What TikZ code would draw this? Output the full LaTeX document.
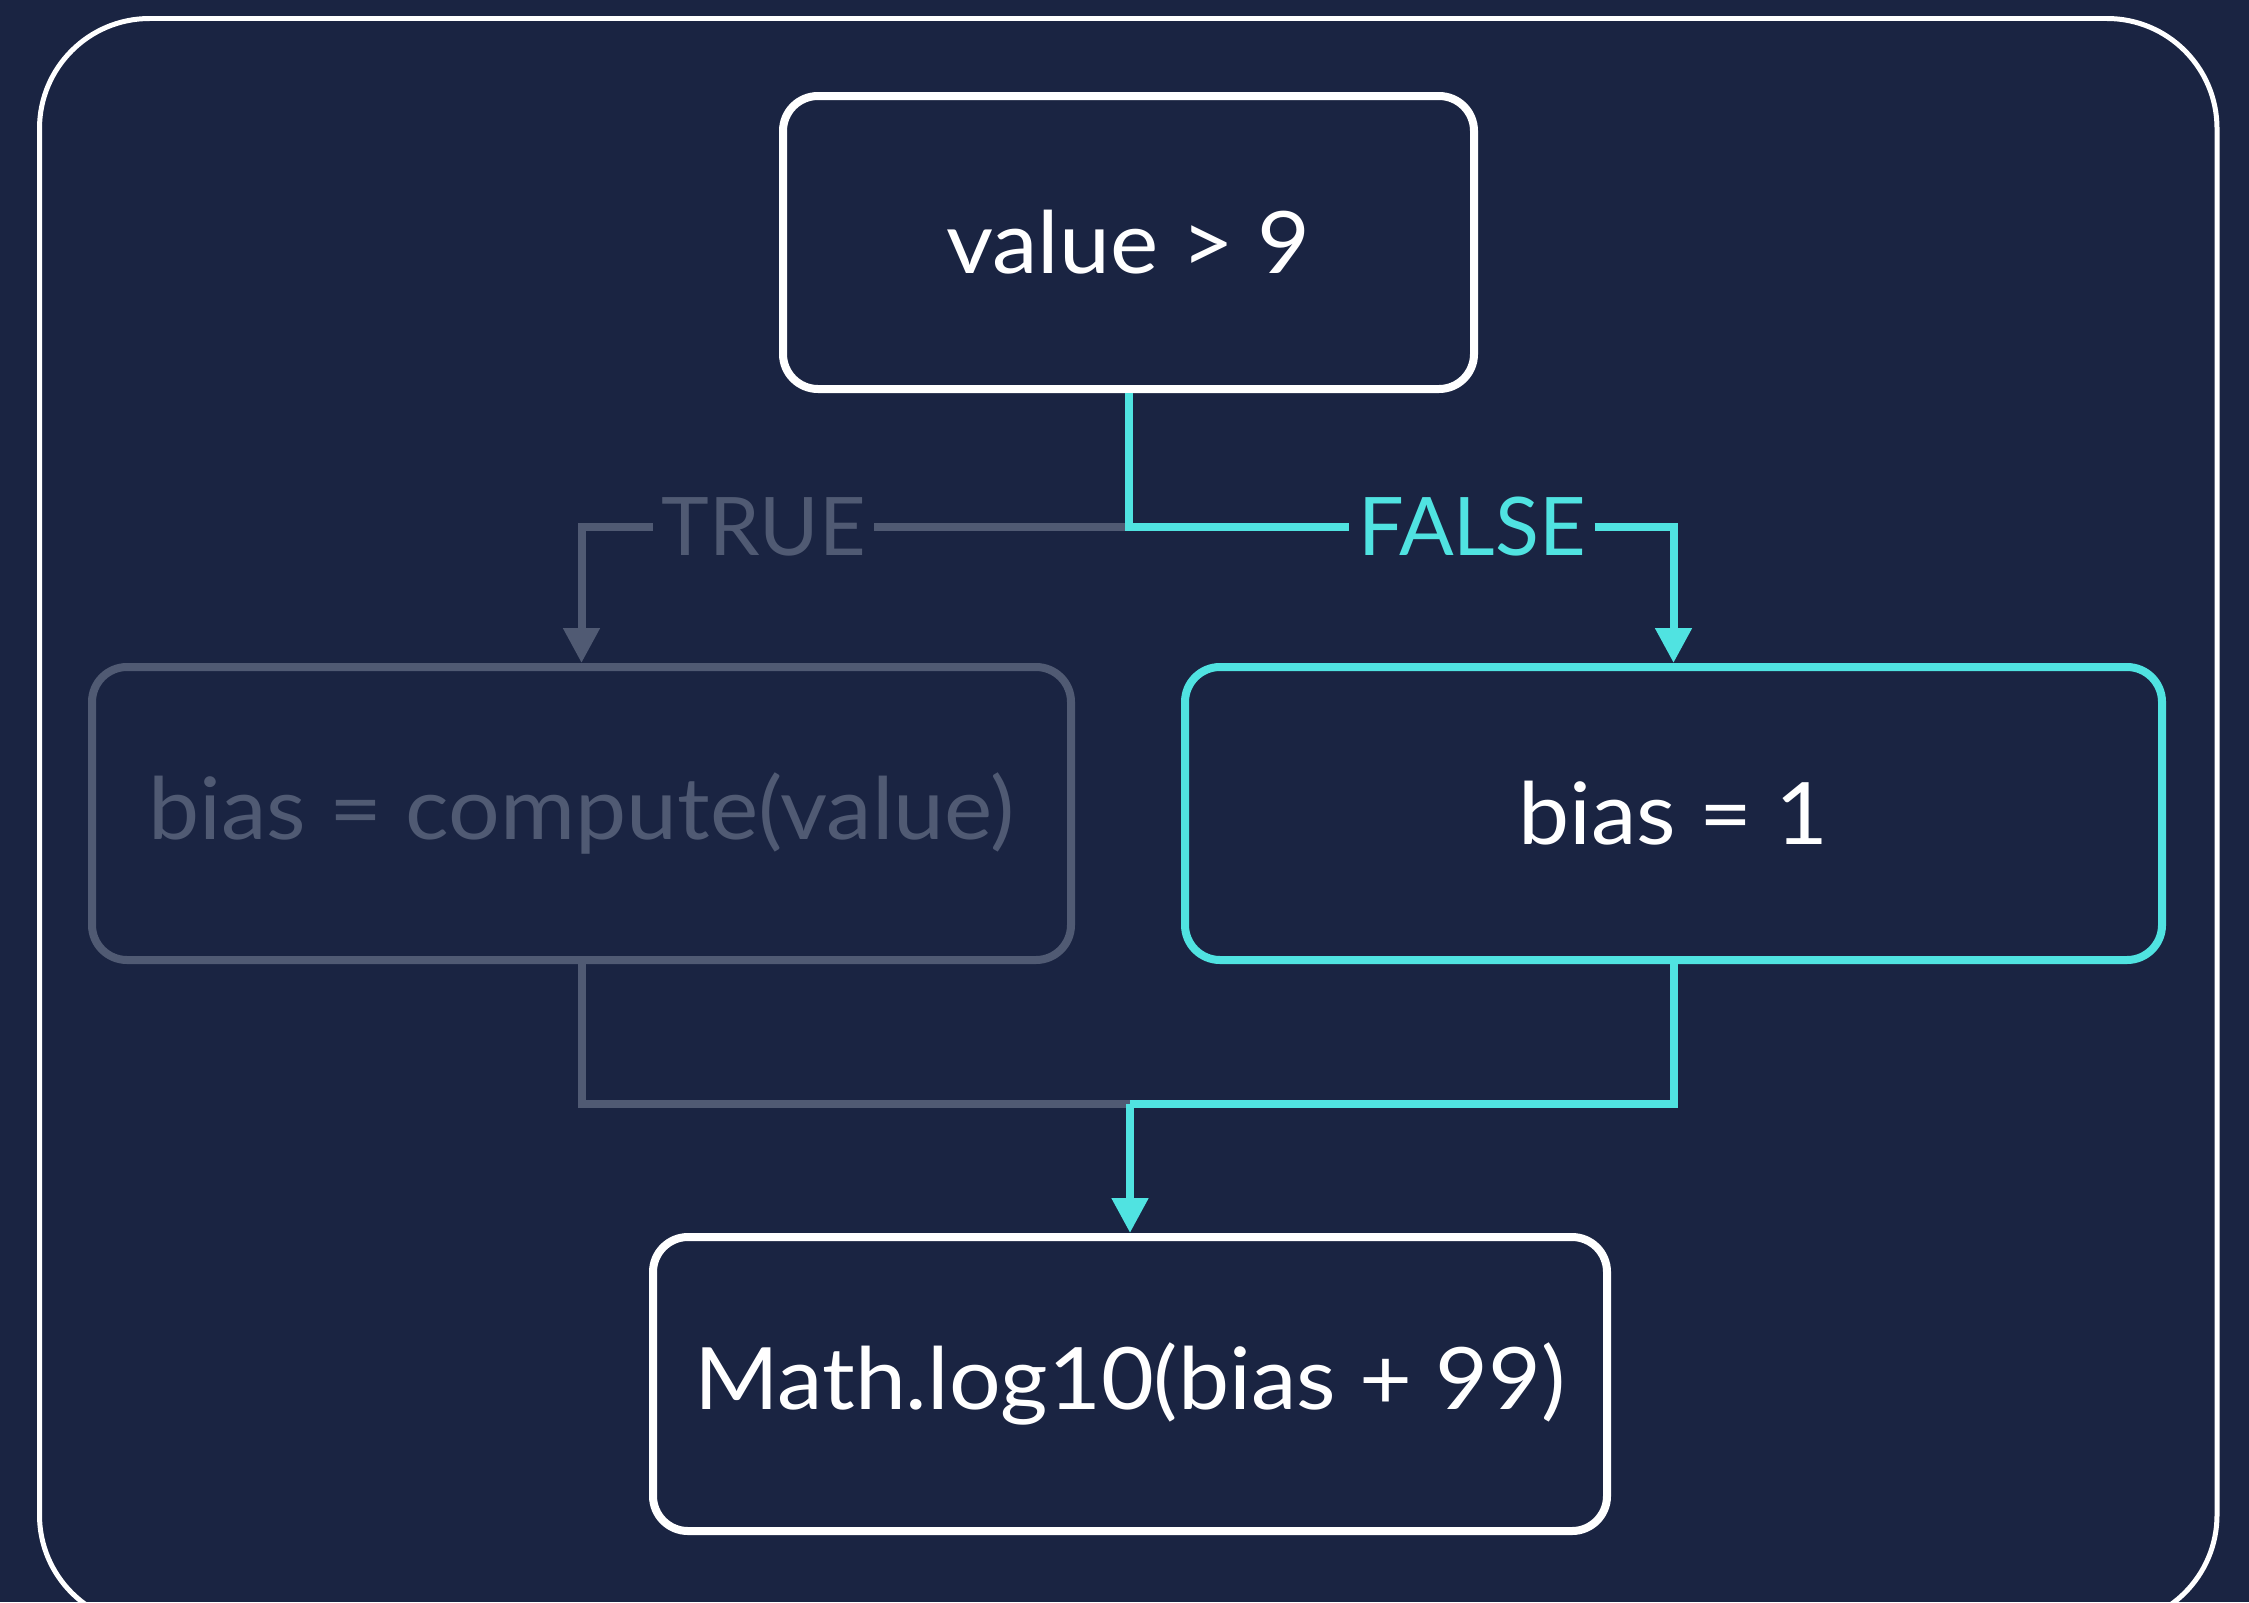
\documentclass[tikz,border=0pt]{standalone}
\usepackage{fontspec}
\setmainfont{Lato}
\newfontfamily\boxfont{Lato}[FakeStretch=1.06]
\usepackage{tikz}
\usetikzlibrary{arrows.meta,positioning}
\definecolor{navy}{RGB}{26,36,66}
\definecolor{aqua}{RGB}{80,227,225}
\definecolor{slate}{RGB}{80,90,115}
\tikzset{>={Triangle[length=3.5mm,width=3.5mm]}}

\begin{document}
\begin{tikzpicture}[
    box/.style={draw=white,rounded corners=3.5mm,line width=0.8mm,text=white,
      minimum height=2.93cm,font=\boxfont\fontsize{24.5}{28}\selectfont},
    wire/.style={line width=0.8mm},
    lbl/.style={font=\fontsize{23}{27}\selectfont,inner xsep=0.8mm}]
  % Frame
  \useasboundingbox (0,0) rectangle (22.49,-16.02);
  \fill[navy] (0,0) rectangle (22.49,-16.02);
  \begin{scope}
    \clip (0,0) rectangle (22.49,-16.02);
    \draw[white,line width=0.5mm,rounded corners=11mm] (0.395,-0.185) rectangle (22.17,-16.25);
  \end{scope}

  % Nodes
  \node[box,minimum width=6.91cm] (cond) at (11.285,-2.425) {value > 9};
  \node[box,draw=slate,text=slate,minimum width=9.79cm] (tbox) at (5.815,-8.135) {bias = compute(value)};
  \node[box,draw=aqua,minimum width=9.77cm] (fbox) at (16.735,-8.135) {bias = 1};
  \node[box,minimum width=9.54cm,minimum height=2.94cm] (result) at (11.30,-13.84) {Math.log10(bias + 99)};

  % Branch points
  \coordinate (split) at (11.285,-5.27);
  \coordinate (merge) at (11.30,-11.04);
  \node[lbl,text=slate] (truelbl) at (7.635,-5.27) {TRUE};
  \node[lbl,text=aqua] (falselbl) at (14.72,-5.27) {FALSE};

  % Connectors
  \draw[wire,slate] (split) -- (truelbl);
  \draw[wire,slate,->] (truelbl) -| (tbox.north);
  \draw[wire,aqua] (cond) -- (split) -- (falselbl);
  \draw[wire,aqua,->] (falselbl) -| (fbox.north);
  \draw[wire,slate] (tbox) |- (merge);
  \draw[wire,aqua] (fbox) |- (merge);
  \draw[wire,aqua,->] (merge) -- (result);
\end{tikzpicture}
\end{document}
